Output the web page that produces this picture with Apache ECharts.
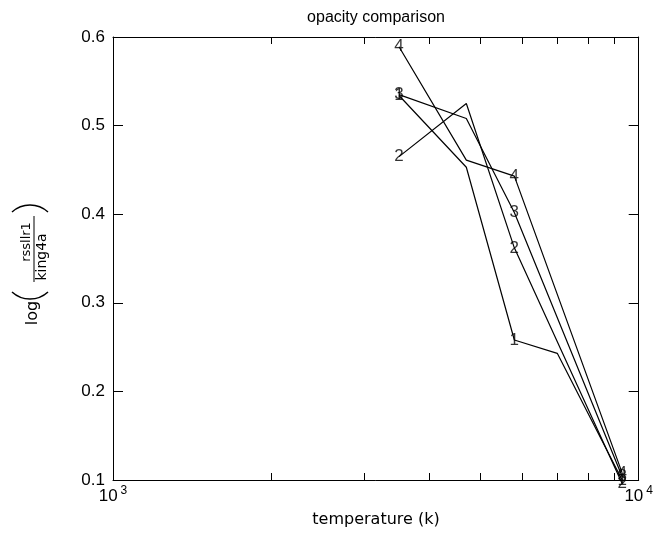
<!DOCTYPE html>
<html><head><meta charset="utf-8">
<script src="https://cdn.jsdelivr.net/npm/echarts@6/dist/echarts.min.js"></script>
<style>html,body{margin:0;padding:0;background:#fff}#c{width:656px;height:542px}</style>
</head><body><div id="c"></div>
<script>
// temperatures (K) of the plotted points
const temps1 = [3500, 4700, 5800, 7000, 9300];
const temps = [3500, 4700, 5800, 9300];
// log(rssllr1 / king4a) values
const series1 = [0.534, 0.453, 0.258, 0.243, 0.100];
const series2 = [0.465, 0.525, 0.362, 0.096];
const series3 = [0.535, 0.508, 0.402, 0.104];
const series4 = [0.589, 0.461, 0.443, 0.108];
const seriesNames = ['1', '2', '3', '4'];
// tick positions
const xMinorTicks = [1000, 2000, 3000, 4000, 5000, 6000, 7000, 8000, 9000, 10000];
const xLabelTicks = [1000, 10000];
const yTicks = [0.1, 0.2, 0.3, 0.4, 0.5, 0.6];

const FONT = 'DejaVu Sans';
const TFONT = 'Liberation Sans';

const seriesDefs = [
  { name: seriesNames[0], x: temps1, y: series1 },
  { name: seriesNames[1], x: temps, y: series2 },
  { name: seriesNames[2], x: temps, y: series3 },
  { name: seriesNames[3], x: temps, y: series4 }
];

const series = [];
seriesDefs.forEach(function (s) {
  const pts = s.x.map(function (t, i) { return [t, s.y[i]]; });
  series.push({
    type: 'line', name: s.name, data: pts, symbol: 'none', clip: false,
    lineStyle: { color: '#000', width: 1.2 }, z: 2, silent: true
  });
  const last = pts.length - 1;
  const labelPts = pts.filter(function (p, i) { return i === 0 || i === 2 || i === last; });
  series.push({
    type: 'scatter', name: s.name + 'lab', data: labelPts, clip: false,
    symbolSize: 2, itemStyle: { color: 'rgba(0,0,0,0)' }, z: 3, silent: true,
    label: {
      show: true, position: 'inside', formatter: s.name,
      color: '#000', fontSize: 17, fontFamily: TFONT
    }
  });
});

const xAxisBase = {
  type: 'log', logBase: 10, min: 1000, max: 10000,
  axisLine: { show: true, onZero: false, lineStyle: { color: '#000', width: 1 } },
  axisTick: { show: true, inside: true, length: 7, customValues: xMinorTicks, lineStyle: { color: '#000' } },
  splitLine: { show: false }, minorTick: { show: false }, minorSplitLine: { show: false }
};
const yAxisBase = {
  type: 'value', min: 0.1, max: 0.6, interval: 0.1,
  axisLine: { show: true, onZero: false, lineStyle: { color: '#000', width: 1 } },
  axisTick: { show: true, inside: true, length: 10, lineStyle: { color: '#000' } },
  splitLine: { show: false }
};

const R = 26.6, HA = 0.743;
const chart = echarts.init(document.getElementById('c'), null, { renderer: 'canvas' });
chart.setOption({
  animation: false,
  backgroundColor: '#fff',
  grid: { left: 113, right: 16, top: 37, bottom: 62, containLabel: false },
  xAxis: [
    Object.assign({}, xAxisBase, {
      position: 'bottom',
      axisLabel: {
        show: true, customValues: xLabelTicks, margin: 5,
        formatter: function (v) { return '{b|10}{s|' + Math.round(Math.log10(v)) + '}'; },
        rich: {
          b: { fontSize: 17, fontFamily: TFONT, color: '#000', lineHeight: 20, verticalAlign: 'bottom' },
          s: { fontSize: 12, fontFamily: TFONT, color: '#000', lineHeight: 20, verticalAlign: 'top', padding: [0, 0, 0, 3] }
        }
      }
    }),
    Object.assign({}, xAxisBase, { position: 'top', axisLabel: { show: false } })
  ],
  yAxis: [
    Object.assign({}, yAxisBase, {
      position: 'left',
      axisLabel: {
        show: true, margin: 8, fontSize: 17, fontFamily: TFONT, color: '#000',
        formatter: function (v) { return v.toFixed(1); }
      }
    }),
    Object.assign({}, yAxisBase, { position: 'right', axisLabel: { show: false } })
  ],
  series: series,
  graphic: [
    { type: 'text', x: 376, y: 18, style: { text: 'opacity comparison', fontSize: 16, fontFamily: '"Liberation Sans Narrow", "Liberation Sans"', fill: '#000', align: 'center', verticalAlign: 'middle' } },
    { type: 'text', x: 376, y: 520, style: { text: 'temperature (k)', fontSize: 16, fontFamily: FONT, fill: '#000', align: 'center', verticalAlign: 'middle' } },
    {
      type: 'group', x: 33, y: 262, rotation: Math.PI / 2,
      children: [
        { type: 'text', x: -51, y: 0, style: { text: 'log', fontSize: 16, fontFamily: FONT, fill: '#000', align: 'center', verticalAlign: 'middle' } },
        { type: 'arc', shape: { cx: -37 + R, cy: -3, r: R, startAngle: Math.PI - HA, endAngle: Math.PI + HA, clockwise: true }, style: { stroke: '#000', lineWidth: 1.5, fill: null } },
        { type: 'text', x: 20, y: -6, style: { text: 'rssllr1', fontSize: 13, fontFamily: FONT, fill: '#000', align: 'center', verticalAlign: 'middle' } },
        { type: 'line', shape: { x1: -20, y1: 1, x2: 46, y2: 1 }, style: { stroke: '#000', lineWidth: 1 } },
        { type: 'text', x: 5, y: 9, style: { text: 'king4a', fontSize: 14, fontFamily: FONT, fill: '#000', align: 'center', verticalAlign: 'middle' } },
        { type: 'arc', shape: { cx: 57 - R, cy: -3, r: R, startAngle: -HA, endAngle: HA, clockwise: true }, style: { stroke: '#000', lineWidth: 1.5, fill: null } }
      ]
    }
  ]
});
</script>
</body></html>
